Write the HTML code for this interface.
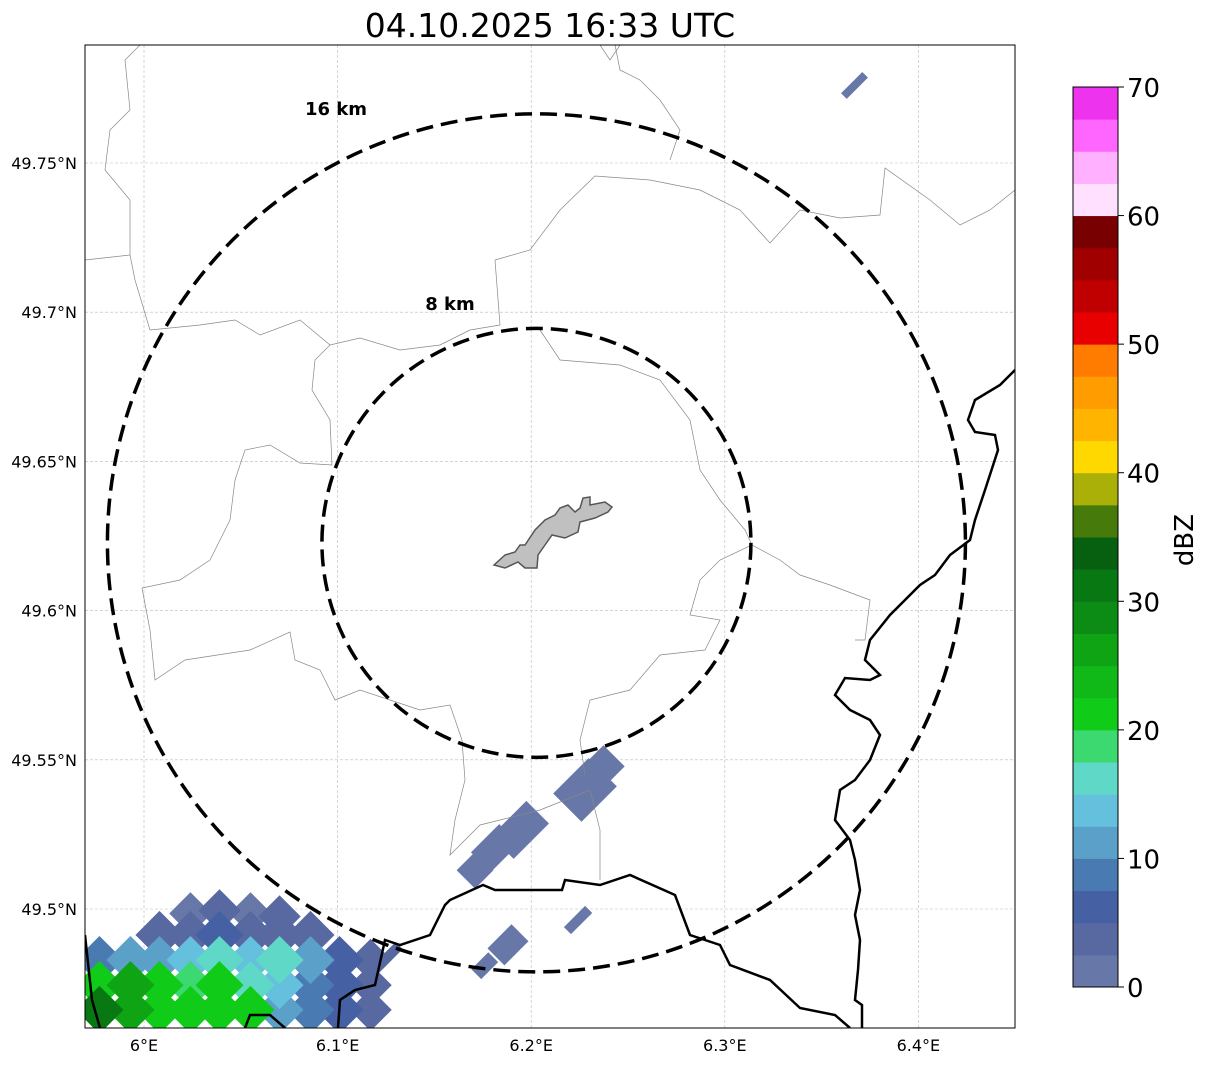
<!DOCTYPE html>
<html><head><meta charset="utf-8"><style>
body{margin:0;background:#fff;}
svg text{font-family:"DejaVu Sans","Liberation Sans",sans-serif;}
</style></head><body>
<svg id="chart" width="1207" height="1064" xmlns="http://www.w3.org/2000/svg">
<defs><clipPath id="plotclip"><rect x="85" y="45" width="930" height="983"/></clipPath></defs>
<text x="550" y="37" font-size="33" text-anchor="middle">04.10.2025 16:33 UTC</text>
<rect x="85" y="45" width="930" height="983" fill="#fff"/>
<g id="grid" clip-path="url(#plotclip)"></g>
<g id="radar" clip-path="url(#plotclip)"></g>
<g id="borders" clip-path="url(#plotclip)" fill="none">
<path stroke="#888" stroke-width="0.7" d="M85,260 L130,255 L135,280 L150,330 L200,325 L235,320 L260,335 L300,320 L330,345 L360,338 L400,350 L440,345 L470,330 L500,325 M330,345 L315,360 L312,390 L330,420 L332,465 L300,463 L270,445 L245,450 L235,480 L230,520 L210,560 L180,580 L142,588 L150,630 L155,680 L185,660 L250,650 L290,632 L295,660 L320,670 L335,700 L360,690 L390,700 L420,710 L450,705 L462,740 L465,780 L455,820 L450,855 L480,825 L540,810 L590,790 L600,830 L600,880 M500,325 L495,260 L530,250 L560,210 L595,176 L650,180 L700,190 L740,210 L770,243 L800,210 L840,218 L880,215 L885,168 L930,200 L960,225 L990,210 L1015,190 M540,330 L560,360 L620,365 L660,380 L690,420 L700,470 L720,500 L745,530 L752,545 L720,560 L700,580 L690,615 L720,620 L705,650 L660,655 L630,690 L590,700 L580,740 L585,775 M752,545 L780,560 L800,575 L830,585 L870,600 L865,640 L855,640 M130,255 L130,200 L105,170 L110,130 L130,110 L125,60 L140,45 M600,45 L610,60 L620,45 M615,45 L620,70 L640,80 L660,100 L680,130 L670,160"/>
<path stroke="#000" stroke-width="2.5" d="M85,935 L92,1000 L100,1028 M245,1028 L250,1015 L270,1015 L285,1028 M338,1028 L340,1000 L355,990 L375,985 L385,940 L400,945 L430,935 L445,905 L450,900 L483,885 L495,890 L562,890 L565,880 L600,885 L630,875 L675,895 L690,935 L720,945 L730,965 L770,980 L800,1008 L835,1015 L850,1028 M1015,370 L1000,385 L975,400 L968,420 L975,432 L995,435 L998,450 L985,490 L975,520 L970,540 L950,555 L935,575 L920,585 L905,600 L890,615 L870,640 L865,660 L880,675 L870,680 L845,678 L835,695 L850,710 L870,720 L880,735 L870,760 L855,780 L840,790 L835,820 L850,840 L855,860 L860,890 L855,915 L860,940 L858,970 L855,1000 L862,1005 L862,1028"/>
<path fill="#c0c0c0" stroke="#555" stroke-width="1.5" d="M494,565 L505,555 L515,552 L520,545 L525,545 L535,530 L545,520 L555,515 L560,508 L568,505 L575,512 L580,508 L583,498 L590,497 L590,505 L605,502 L612,507 L608,512 L595,518 L580,522 L578,532 L565,538 L552,535 L545,545 L538,555 L537,568 L525,568 L518,562 L505,568 Z"/>
</g>
<g id="rings" fill="none" stroke="#000" stroke-width="3.5" stroke-dasharray="17,8"></g>
<text x="336" y="115" font-size="18" font-weight="bold" text-anchor="middle">16 km</text>
<text x="450" y="310" font-size="18" font-weight="bold" text-anchor="middle">8 km</text>
<rect x="85" y="45" width="930" height="983" fill="none" stroke="#000" stroke-width="1"/>
<g id="axes"></g>
<g id="colorbar"></g>
</svg>
<script>
const lonTicks=[6.0,6.1,6.2,6.3,6.4];
const lonLabels=["6°E","6.1°E","6.2°E","6.3°E","6.4°E"];
const latTicks=[49.5,49.55,49.6,49.65,49.7,49.75];
const latLabels=["49.5°N","49.55°N","49.6°N","49.65°N","49.7°N","49.75°N"];
const ringRadiiKm=[8,16];
const radarCenter=[6.2027,49.6227];
const cbBounds=[0,2.5,5,7.5,10,12.5,15,17.5,20,22.5,25,27.5,30,32.5,35,37.5,40,42.5,45,47.5,50,52.5,55,57.5,60,62.5,65,67.5,70];
const cbColors=["#6677a8","#5868a0","#4660a4","#4a7ab2","#5aa0c8","#64c0dc","#60d8c8","#3cd870","#10cc18","#10b818","#0ea414","#0c8c14","#087812","#066010","#467a0a","#aab008","#ffd800","#ffb400","#ff9c00","#ff7c00","#e80000","#c00000","#a00000","#780000","#ffe0ff","#ffb0ff","#ff66ff","#ee33ee"];
const cbTicks=[0,10,20,30,40,50,60,70];
const cellLon=[6.2278,6.2355,6.1942,6.1813,6.171,6.2242,6.188,6.176,6.367,6.1245,
 6.024,6.039,6.055,6.070,
 6.008,6.024,6.039,6.055,6.070,6.086,
 5.977,5.993,6.008,6.024,6.039,6.055,6.070,6.086,6.101,6.117,
 5.977,5.993,6.008,6.024,6.039,6.055,6.070,6.086,6.101,6.117,
 5.977,5.993,6.008,6.024,6.039,6.055,6.070,6.086,6.101,6.117];
const cellLat=[49.5399,49.5466,49.5265,49.5204,49.513,49.4963,49.488,49.481,49.776,49.483,
 49.4985,49.4995,49.4985,49.4975,
 49.4913,49.4913,49.4913,49.4913,49.4913,49.4913,
 49.4829,49.4829,49.4829,49.4829,49.4829,49.4829,49.4829,49.4829,49.4829,49.4829,
 49.4745,49.4745,49.4745,49.4745,49.4745,49.4745,49.4745,49.4745,49.4745,49.4745,
 49.4662,49.4662,49.4662,49.4662,49.4662,49.4662,49.4662,49.4662,49.4662,49.4662];
const cellDbz=[1,1,1,1,1,1,1,1,1,3,
 2,3,2,3,
 3,4,5,3,4,3,
 8,12,12,14,17,14,17,10,5,3,
 22,25,22,19,22,17,14,8,5,3,
 30,27,22,22,22,20,12,8,5,4];
const cellW=[40,30,32,28,26,10,24,14,8,10,
 30,30,30,30,
 34,34,34,34,34,34, 34,34,34,34,34,34,34,34,34,30, 34,34,34,34,34,34,34,34,34,30, 34,34,34,34,34,34,34,34,34,30];
const cellH=[50,40,50,40,26,30,34,24,30,40,
 30,30,30,30,
 34,34,34,34,34,34, 34,34,34,34,34,34,34,34,34,30, 34,34,34,34,34,34,34,34,34,30, 34,34,34,34,34,34,34,34,34,30];

const NS="http://www.w3.org/2000/svg";
const px=lon=>144+(lon-6)*1936;
const py=lat=>909-(lat-49.5)*2984;
const kmPx=429/16;
const cbY=v=>987-(v/70)*900;
function mk(tag,attrs,parent){const e=document.createElementNS(NS,tag);for(const k in attrs)e.setAttribute(k,attrs[k]);parent.appendChild(e);return e;}
function colorFor(v){for(let i=0;i<cbColors.length;i++){if(v<cbBounds[i+1])return cbColors[i];}return cbColors[cbColors.length-1];}

const grid=document.getElementById('grid');
lonTicks.forEach(t=>{const l=mk('line',{x1:px(t),x2:px(t),y1:45,y2:1028,stroke:'#bbb','stroke-width':0.6,'stroke-dasharray':'3,2'},grid);

});
latTicks.forEach(t=>{const l=mk('line',{x1:85,x2:1015,y1:py(t),y2:py(t),stroke:'#bbb','stroke-width':0.6,'stroke-dasharray':'3,2'},grid);

});

const axes=document.getElementById('axes');
lonTicks.forEach((t,i)=>{const e=mk('text',{x:px(t),y:1051,'font-size':16,'text-anchor':'middle'},axes);e.textContent=lonLabels[i];

});
latTicks.forEach((t,i)=>{const e=mk('text',{x:77,y:py(t)+6,'font-size':16,'text-anchor':'end'},axes);e.textContent=latLabels[i];

});

const radar=document.getElementById('radar');
const order=cellDbz.map((v,i)=>i).sort((a,b)=>cellDbz[a]-cellDbz[b]);
order.forEach(i=>{const cx=px(cellLon[i]),cy=py(cellLat[i]);const w=cellW[i],h=cellH[i];
const r=mk('rect',{x:cx-w/2,y:cy-h/2,width:w,height:h,fill:colorFor(cellDbz[i]),transform:`rotate(45 ${cx} ${cy})`},radar);

});

const rings=document.getElementById('rings');
ringRadiiKm.forEach(k=>{const cx=px(radarCenter[0]),cy=py(radarCenter[1]);
const c=mk('circle',{cx:cx,cy:cy,r:k*kmPx},rings);

});

const cb=document.getElementById('colorbar');
cbColors.forEach((c,i)=>{const y1=cbY(cbBounds[i+1]),y0=cbY(cbBounds[i]);
const r=mk('rect',{x:1073,y:y1,width:45,height:y0-y1+0.5,fill:c},cb);

});
const fr=mk('rect',{x:1073,y:87,width:45,height:900,fill:'none',stroke:'#000','stroke-width':1},cb);


cbTicks.forEach(t=>{mk('line',{x1:1118,x2:1124,y1:cbY(t),y2:cbY(t),stroke:'#000'},cb);
const e=mk('text',{x:1127,y:cbY(t)+10,'font-size':26},cb);e.textContent=t;

});
const lab=mk('text',{x:1193,y:540,'font-size':26,'text-anchor':'middle',transform:'rotate(-90 1193 540)'},cb);
lab.textContent='dBZ';


</script>
</body></html>
